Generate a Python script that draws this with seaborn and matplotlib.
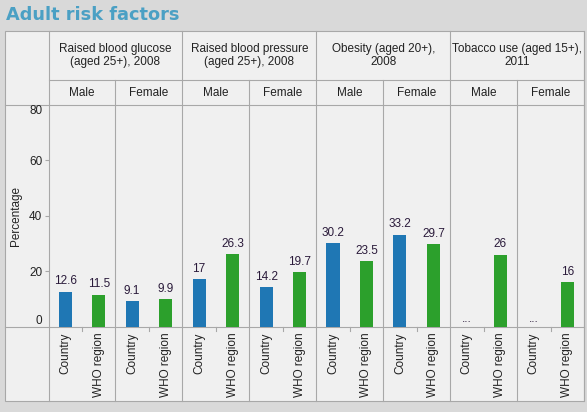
import numpy as np
import pandas as pd
import seaborn as sns
import matplotlib.pyplot as plt
from matplotlib.patches import Rectangle

# chart data
factors = ["Raised blood glucose\n(aged 25+), 2008",
           "Raised blood pressure\n(aged 25+), 2008",
           "Obesity (aged 20+),\n2008",
           "Tobacco use (aged 15+),\n2011"]
sexes = ["Male", "Female"]
sources = ["Country", "WHO region"]
country_vals = [12.6, 9.1, 17, 14.2, 30.2, 33.2, np.nan, np.nan]
who_vals = [11.5, 9.9, 26.3, 19.7, 23.5, 29.7, 26, 16]
yticks = [0, 20, 40, 60, 80]

# build long table, one row per bar
rows = []
for fi, f in enumerate(factors):
    for si, s in enumerate(sexes):
        k = fi * 2 + si
        rows.append({"slot": f"{k}-C", "source": sources[0], "value": country_vals[k]})
        rows.append({"slot": f"{k}-W", "source": sources[1], "value": who_vals[k]})
data = pd.DataFrame(rows)
order = list(data["slot"])

plt.rcParams['font.family'] = ['Liberation Sans', 'DejaVu Sans']
txt = '#222222'
grid = '#a8a8a8'

fig = plt.figure(figsize=(5.87, 4.12), dpi=100, facecolor='#d9d9d9')

# background axes in pixel coords for the table frame
bg = fig.add_axes([0, 0, 1, 1], zorder=0)
bg.set_xlim(0, 587)
bg.set_ylim(412, 0)
bg.axis('off')
bg.add_patch(Rectangle((5, 31), 579, 370, fc='#f0f0f0', ec=grid, lw=0.8))
lw = 0.8
x0, x1 = 48.5, 584
col = (x1 - x0) / 8
for i in range(9):
    x = x0 + i * col
    top = 31 if i % 2 == 0 else 80
    bg.plot([x, x], [top, 401], color=grid, lw=lw)
bg.plot([x0, x1], [80, 80], color=grid, lw=lw)
bg.plot([5, x1], [105, 105], color=grid, lw=lw)
bg.plot([5, x1], [326.5, 326.5], color=grid, lw=lw)
for i in range(8):
    xm = x0 + (i + 0.5) * col
    bg.plot([xm, xm], [326.5, 330.5], color=grid, lw=lw)
    bg.text(xm, 92.5, sexes[i % 2], ha='center', va='center', fontsize=8.5, color=txt)
for g, f in enumerate(factors):
    xc = x0 + (g + 1) * 2 * col - col
    bg.text(xc, 55.5, f, ha='center', va='center', fontsize=8.5, color=txt,
            linespacing=1.1, multialignment='center')
bg.text(6, 15, "Adult risk factors", fontsize=12.8, fontweight='bold',
        color='#4ba0c4', va='center', ha='left', family='DejaVu Sans')

# main plot area
ax = fig.add_axes([x0 / 587, 1 - 326.5 / 412, (x1 - x0) / 587, (326.5 - 105) / 412], zorder=2)
ax.patch.set_alpha(0)
sns.barplot(data=data, x="slot", y="value", hue="source", order=order,
            palette=['#1f77b4', '#2ca02c'], saturation=1, dodge=False, width=0.39,
            legend=False, ax=ax)
ax.set_xlim(-0.5, len(order) - 0.5)
ax.set_ylim(0, 80)
for sp in ax.spines.values():
    sp.set_visible(False)

ax.set_xticks(range(len(order)))
ax.set_xticklabels([sources[i % 2] for i in range(len(order))], rotation=90,
                   fontsize=8.5, color=txt, va='top')
ax.tick_params(axis='x', length=0, pad=4.5)
ax.set_xlabel("")

ax.set_yticks(yticks)
ax.set_yticklabels([str(v) for v in yticks], fontsize=8.5, color=txt)
ax.tick_params(axis='y', length=3, pad=1.5, color=grid, width=0.8)
ticks = ax.yaxis.get_major_ticks()
ticks[0].tick1line.set_visible(False)
ticks[-1].tick1line.set_visible(False)
ticks[0].label1.set_va('bottom')
ticks[-1].label1.set_va('top')
ax.set_ylabel("Percentage", fontsize=8.5, color=txt)
ax.yaxis.set_label_coords(-0.049, 0.5)

# value labels
vals = data["value"].tolist()
for i, v in enumerate(vals):
    if np.isnan(v):
        ax.annotate("...", (i, 0), xytext=(0, 1), textcoords='offset points',
                    ha='center', va='bottom', fontsize=8.5, color='#2a1a3a')
    else:
        ax.annotate(f"{v:g}", (i, v), xytext=(0, 3), textcoords='offset points',
                    ha='center', va='bottom', fontsize=8.5, color='#2a1a3a')

plt.savefig('out.png', dpi=100, facecolor=fig.get_facecolor())
